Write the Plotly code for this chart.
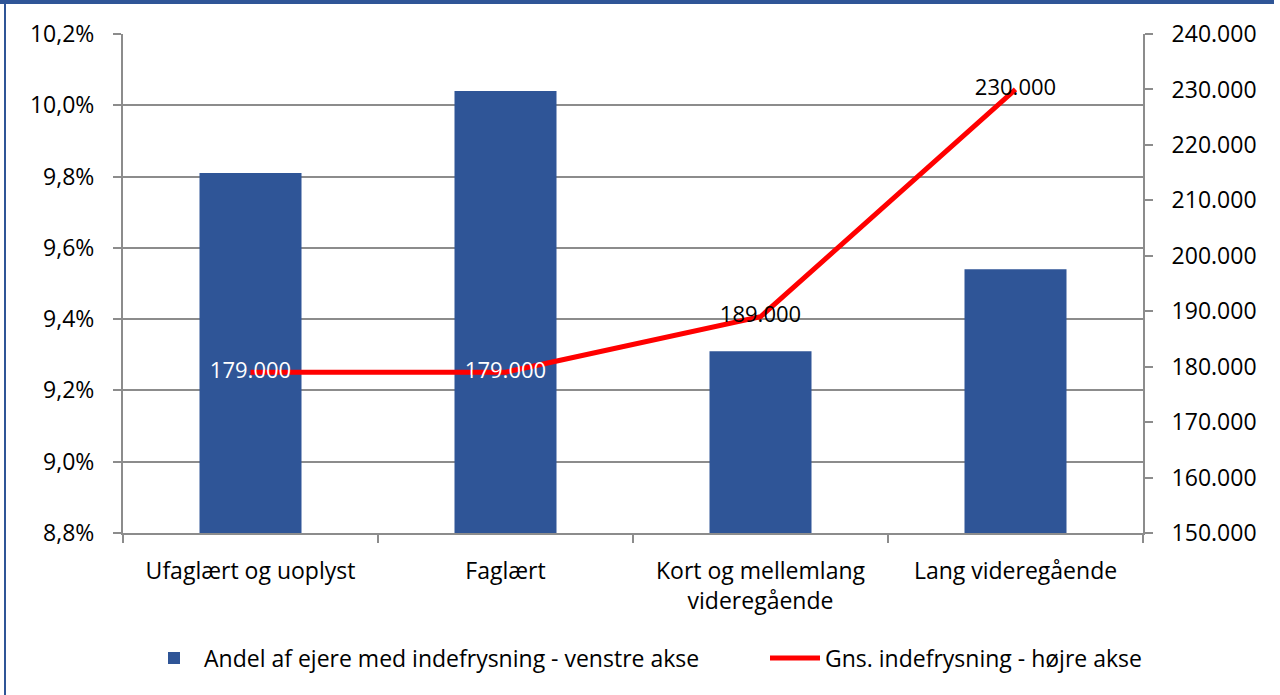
import plotly.graph_objects as go

categories = ["Ufaglært og uoplyst", "Faglært", "Kort og mellemlang<br>videregående", "Lang videregående"]
andel = [0.0981, 0.1004, 0.0931, 0.0954]
gns = [179000, 179000, 189000, 230000]
label_colors = ["white", "white", "black", "black"]

bar_name = "Andel af ejere med indefrysning - venstre akse"
line_name = "Gns. indefrysning - højre akse"

FONT = "Open Sans"
FS = 23
BLUE = "#2F5597"
GRID = "#8C8C8C"

fig = go.Figure()
fig.add_trace(go.Bar(
    x=categories, y=andel, name=bar_name, marker=dict(color=BLUE, line=dict(width=0)),
    width=0.4, yaxis="y", legend="legend",
))
fig.add_trace(go.Scatter(
    x=categories, y=gns, name=line_name, mode="lines+text", yaxis="y2",
    line=dict(color="#FF0000", width=5), legend="legend2",
    texttemplate="%{y:,.0f}", textposition="middle center",
    textfont=dict(color=label_colors, size=FS - 1, family=FONT),
))

W, H = 1280, 695
L, R, T, B = 123, 1143, 34, 533
pw, ph = R - L, B - T

def px(x):
    return (x - L) / pw

def py(y):
    return (B - y) / ph

tf = dict(size=FS, family=FONT, color="black")

fig.update_layout(
    width=W, height=H,
    margin=dict(l=L, r=W - R, t=T, b=H - B, pad=0, autoexpand=False),
    paper_bgcolor="white", plot_bgcolor="white",
    separators=",.",
    font=dict(family=FONT, size=FS, color="black"),
    showlegend=True,
    legend=dict(orientation="h", x=px(144), xanchor="left", y=py(658), yanchor="middle",
                font=tf, itemwidth=50),
    legend2=dict(orientation="h", x=px(765), xanchor="left", y=py(658), yanchor="middle",
                 font=tf, itemwidth=50),
    xaxis=dict(
        type="category", showline=True, linecolor=GRID, linewidth=2,
        ticks="outside", ticklen=8, tickwidth=2, tickcolor=GRID, tickson="boundaries",
        showgrid=False, ticklabelstandoff=16, tickfont=tf,
    ),
    yaxis=dict(
        range=[0.088, 0.102], dtick=0.002, tick0=0.088, tickformat=".1%",
        showline=True, linecolor=GRID, linewidth=2,
        ticks="outside", ticklen=8, tickwidth=2, tickcolor=GRID,
        showgrid=True, gridcolor=GRID, gridwidth=2, zeroline=False,
        ticklabelstandoff=14, tickfont=tf,
    ),
    yaxis2=dict(
        range=[150000, 240000], dtick=10000, tick0=150000, tickformat=",.0f",
        overlaying="y", side="right",
        showline=True, linecolor=GRID, linewidth=2,
        ticks="outside", ticklen=8, tickwidth=2, tickcolor=GRID,
        showgrid=False, zeroline=False,
        ticklabelstandoff=14, tickfont=tf,
    ),
    shapes=[
        dict(type="rect", xref="paper", yref="paper", x0=px(0), x1=px(1274), y0=py(4), y1=py(-2),
             fillcolor=BLUE, line=dict(width=0), layer="above"),
        dict(type="rect", xref="paper", yref="paper", x0=px(4), x1=px(6), y0=py(697), y1=py(0),
             fillcolor=BLUE, line=dict(width=0), layer="above"),
    ],
)

fig.write_html("out.html", config={"displayModeBar": False},
               post_script="document.body.style.margin='0px';")
